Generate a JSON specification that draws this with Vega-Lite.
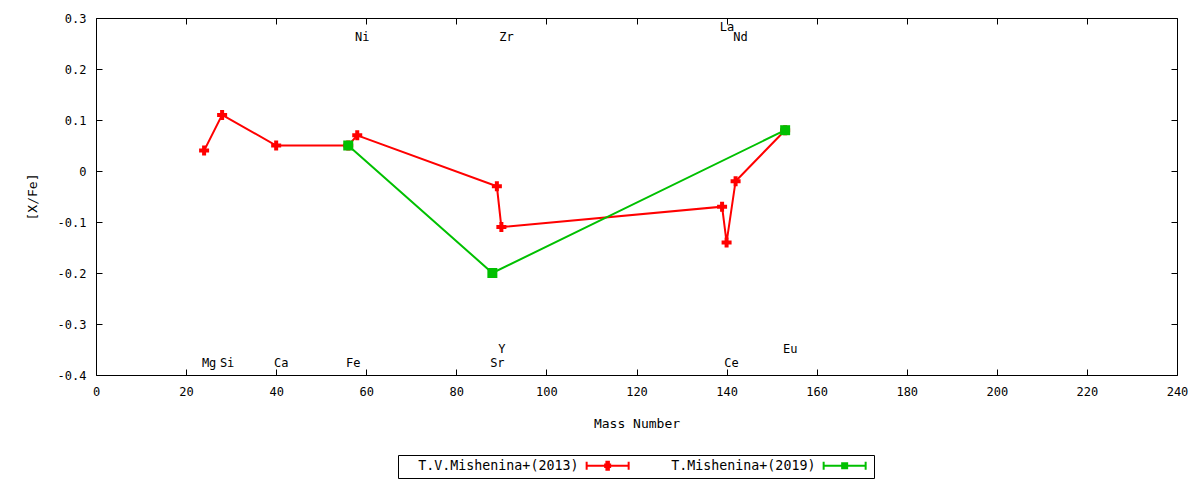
{
  "$schema": "https://vega.github.io/schema/vega-lite/v6.json",
  "description": "[X/Fe] against mass number for two Mishenina abundance sets.",
  "width": 1081,
  "height": 357,
  "autosize": {"type": "none"},
  "padding": {"left": 96, "top": 18, "right": 23, "bottom": 105},
  "background": "#fff",
  "config": {
    "view": {"stroke": "black", "strokeWidth": 1},
    "font": "DejaVu Sans Mono",
    "axis": {
      "domain": false,
      "grid": false,
      "tickColor": "black",
      "tickSize": -6,
      "labelFlush": false,
      "labelFont": "DejaVu Sans Mono",
      "labelFontSize": 12,
      "labelColor": "black",
      "titleFont": "DejaVu Sans Mono",
      "titleFontSize": 13,
      "titleFontWeight": "normal",
      "titleColor": "black"
    }
  },
  "datasets": {
    "abund": [
      {"series": "T.V.Mishenina+(2013)", "element": "Mg", "mass": 24, "xfe": 0.04},
      {"series": "T.V.Mishenina+(2013)", "element": "Si", "mass": 28, "xfe": 0.11},
      {"series": "T.V.Mishenina+(2013)", "element": "Ca", "mass": 40, "xfe": 0.05},
      {"series": "T.V.Mishenina+(2013)", "element": "Fe", "mass": 56, "xfe": 0.05},
      {"series": "T.V.Mishenina+(2013)", "element": "Ni", "mass": 58, "xfe": 0.07},
      {"series": "T.V.Mishenina+(2013)", "element": "Y", "mass": 89, "xfe": -0.03},
      {"series": "T.V.Mishenina+(2013)", "element": "Zr", "mass": 90, "xfe": -0.11},
      {"series": "T.V.Mishenina+(2013)", "element": "La", "mass": 139, "xfe": -0.07},
      {"series": "T.V.Mishenina+(2013)", "element": "Ce", "mass": 140, "xfe": -0.14},
      {"series": "T.V.Mishenina+(2013)", "element": "Nd", "mass": 142, "xfe": -0.02},
      {"series": "T.V.Mishenina+(2013)", "element": "Eu", "mass": 153, "xfe": 0.08},
      {"series": "T.Mishenina+(2019)", "element": "Fe", "mass": 56, "xfe": 0.05},
      {"series": "T.Mishenina+(2019)", "element": "Sr", "mass": 88, "xfe": -0.2},
      {"series": "T.Mishenina+(2019)", "element": "Eu", "mass": 153, "xfe": 0.08}
    ],
    "labels": [
      {"element": "Mg", "mass": 24, "at": -0.376},
      {"element": "Si", "mass": 28, "at": -0.376},
      {"element": "Ca", "mass": 40, "at": -0.376},
      {"element": "Fe", "mass": 56, "at": -0.376},
      {"element": "Ni", "mass": 58, "at": 0.263},
      {"element": "Sr", "mass": 88, "at": -0.376},
      {"element": "Y", "mass": 89, "at": -0.349},
      {"element": "Zr", "mass": 90, "at": 0.263},
      {"element": "La", "mass": 139, "at": 0.282},
      {"element": "Ce", "mass": 140, "at": -0.376},
      {"element": "Nd", "mass": 142, "at": 0.263},
      {"element": "Eu", "mass": 153, "at": -0.349}
    ]
  },
  "layer": [
    {
      "data": {"name": "abund"},
      "mark": {"type": "line", "strokeWidth": 2},
      "encoding": {
        "x": {
          "field": "mass",
          "type": "quantitative",
          "scale": {"domain": [0, 240], "nice": false, "zero": false},
          "axis": {
            "title": "Mass Number",
            "values": [0, 20, 40, 60, 80, 100, 120, 140, 160, 180, 200, 220, 240],
            "format": "d",
            "labelPadding": 17,
            "titlePadding": 20
          }
        },
        "y": {
          "field": "xfe",
          "type": "quantitative",
          "scale": {"domain": [-0.4, 0.3], "nice": false, "zero": false},
          "axis": {
            "title": "[X/Fe]",
            "values": [-0.4, -0.3, -0.2, -0.1, 0, 0.1, 0.2, 0.3],
            "labelExpr": "'' + datum.value",
            "labelPadding": 16,
            "titlePadding": 18
          }
        },
        "color": {
          "field": "series",
          "type": "nominal",
          "scale": {
            "domain": ["T.V.Mishenina+(2013)", "T.Mishenina+(2019)"],
            "range": ["#ff0000", "#00c000"]
          },
          "legend": {
            "orient": "none",
            "legendX": 302,
            "legendY": 437,
            "direction": "horizontal",
            "title": null,
            "strokeColor": "black",
            "fillColor": "white",
            "padding": 4,
            "labelFont": "DejaVu Sans Mono",
            "labelFontSize": 13.3,
            "labelColor": "black",
            "labelLimit": 400,
            "labelOffset": 3,
            "symbolSize": 100,
            "symbolStrokeWidth": 2,
            "columnPadding": 14,
            "encode": {
              "symbols": {
                "update": {
                  "shape": [
                    {"test": "datum.value === 'T.V.Mishenina+(2013)'", "value": "M-1.2,0M44.8,0M35.6,0H44M35.6,-0.8V0.8M44,-0.8V0.8M39.3,-0.25H39.55V-0.8H40.05V-0.25H40.3V0.25H40.05V0.8H39.55V0.25H39.3Z"},
                    {"value": "M-1.2,0M40.8,0M32.4,0H40.8M32.4,-0.8V0.8M40.8,-0.8V0.8M36.1,-0.5H37.1V0.5H36.1Z"}
                  ],
                  "fill": [
                    {"test": "datum.value === 'T.V.Mishenina+(2013)'", "value": "#ff0000"},
                    {"value": "#00c000"}
                  ],
                  "stroke": [
                    {"test": "datum.value === 'T.V.Mishenina+(2013)'", "value": "#ff0000"},
                    {"value": "#00c000"}
                  ],
                  "strokeWidth": {"value": 2},
                  "opacity": {"value": 1}
                }
              }
            }
          }
        }
      }
    },
    {
      "data": {"name": "abund"},
      "transform": [{"filter": "datum.series === 'T.V.Mishenina+(2013)'"}],
      "mark": {"type": "point", "shape": "cross", "filled": true, "opacity": 1, "size": 100},
      "encoding": {
        "x": {"field": "mass", "type": "quantitative", "axis": null},
        "y": {"field": "xfe", "type": "quantitative", "axis": null},
        "color": {"field": "series", "type": "nominal", "legend": null}
      }
    },
    {
      "data": {"name": "abund"},
      "transform": [{"filter": "datum.series === 'T.Mishenina+(2019)'"}],
      "mark": {"type": "point", "shape": "square", "filled": true, "opacity": 1, "size": 100},
      "encoding": {
        "x": {"field": "mass", "type": "quantitative", "axis": null},
        "y": {"field": "xfe", "type": "quantitative", "axis": null},
        "color": {"field": "series", "type": "nominal", "legend": null}
      }
    },
    {
      "data": {"name": "labels"},
      "mark": {"type": "text", "dx": 5, "baseline": "middle", "fontSize": 12, "font": "DejaVu Sans Mono", "color": "black"},
      "encoding": {
        "x": {
          "field": "mass",
          "type": "quantitative",
          "axis": {
            "orient": "top",
            "labels": false,
            "title": null,
            "values": [0, 20, 40, 60, 80, 100, 120, 140, 160, 180, 200, 220, 240]
          }
        },
        "y": {
          "field": "at",
          "type": "quantitative",
          "axis": {
            "orient": "right",
            "labels": false,
            "title": null,
            "values": [-0.4, -0.3, -0.2, -0.1, 0, 0.1, 0.2, 0.3]
          }
        },
        "text": {"field": "element"}
      }
    }
  ],
  "resolve": {"axis": {"x": "independent", "y": "independent"}}
}
